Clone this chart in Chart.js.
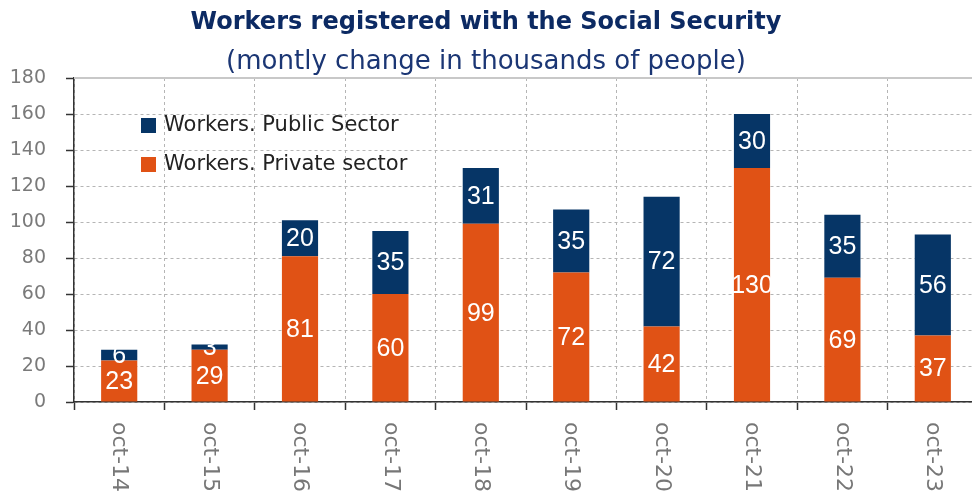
<!DOCTYPE html>
<html>
<head>
<meta charset="utf-8">
<script src="https://cdn.jsdelivr.net/npm/chart.js@4"></script>
<style>
  html, body { margin: 0; padding: 0; background: #fff; overflow: hidden; }
  #wrap { position: relative; width: 978px; height: 498px; }
</style>
</head>
<body>
<div id="wrap"><canvas id="chart"></canvas></div>
<script>
// monthly change in thousands of people, each October
const months = ['oct-14', 'oct-15', 'oct-16', 'oct-17', 'oct-18', 'oct-19', 'oct-20', 'oct-21', 'oct-22', 'oct-23'];
const privateSector = [23, 29, 81, 60, 99, 72, 42, 130, 69, 37];
const publicSector = [6, 3, 20, 35, 31, 35, 72, 30, 35, 56];
const yTicks = [0, 20, 40, 60, 80, 100, 120, 140, 160, 180];

const NAVY = '#063566';
const ORANGE = '#E05215';
const TITLE_COLOR = '#0C2A63';
const AXIS_FONT = '"DejaVu Sans", sans-serif';

// white numbers centred in each bar segment
const barLabels = {
    id: 'barLabels',
    afterDatasetsDraw(chart) {
        const ctx = chart.ctx;
        ctx.save();
        ctx.fillStyle = '#fff';
        ctx.font = '25px "Liberation Sans", Arial, sans-serif';
        ctx.textAlign = 'center';
        ctx.textBaseline = 'middle';
        chart.data.datasets.forEach((ds, i) => {
            chart.getDatasetMeta(i).data.forEach((bar, j) => {
                const y = (bar.y + bar.base) / 2;
                ctx.fillText(String(ds.data[j]), bar.x, y + 1);
            });
        });
        ctx.restore();
    }
};

// titles, legend inside the plot, rotated month labels, top border
const decorations = {
    id: 'decorations',
    afterDraw(chart) {
        const ctx = chart.ctx;
        const area = chart.chartArea;
        ctx.save();

        ctx.fillStyle = TITLE_COLOR;
        ctx.textAlign = 'center';
        ctx.textBaseline = 'middle';
        ctx.font = 'bold 24px ' + AXIS_FONT;
        ctx.fillText('Workers registered with the Social Security', 486, 23);
        ctx.fillStyle = '#1B3674';
        ctx.font = '26px ' + AXIS_FONT;
        ctx.fillText('(montly change in thousands of people)', 486, 62);

        // top border line at 180
        ctx.strokeStyle = '#c8c8c8';
        ctx.lineWidth = 2;
        ctx.beginPath();
        ctx.moveTo(area.left, area.top);
        ctx.lineTo(area.right, area.top);
        ctx.stroke();

        // legend
        const items = [
            { text: 'Workers. Public Sector', color: NAVY, y: 126 },
            { text: 'Workers. Private sector', color: ORANGE, y: 165 }
        ];
        ctx.textAlign = 'left';
        ctx.font = '21px ' + AXIS_FONT;
        items.forEach(item => {
            ctx.fillStyle = item.color;
            ctx.fillRect(141, item.y - 8, 15, 15);
            ctx.fillStyle = '#222';
            ctx.fillText(item.text, 164, item.y);
        });

        // month labels, reading top to bottom
        const xScale = chart.scales.x;
        ctx.fillStyle = '#777';
        ctx.font = '22px ' + AXIS_FONT;
        ctx.textBaseline = 'middle';
        months.forEach((m, i) => {
            const x = xScale.getPixelForValue(i);
            ctx.save();
            ctx.translate(x, area.bottom + 20);
            ctx.rotate(Math.PI / 2);
            ctx.fillText(m, 0, 0);
            ctx.restore();
        });

        ctx.restore();
    }
};

new Chart(document.getElementById('chart'), {
    type: 'bar',
    data: {
        labels: months,
        datasets: [
            {
                label: 'Workers. Private sector',
                data: privateSector,
                backgroundColor: ORANGE,
                barPercentage: 0.4,
                categoryPercentage: 1
            },
            {
                label: 'Workers. Public Sector',
                data: publicSector,
                backgroundColor: NAVY,
                barPercentage: 0.4,
                categoryPercentage: 1
            }
        ]
    },
    options: {
        responsive: true,
        maintainAspectRatio: false,
        animation: false,
        layout: { padding: { top: 78, right: 0, bottom: 0, left: 0 } },
        plugins: {
            legend: { display: false },
            title: { display: false },
            tooltip: { enabled: false }
        },
        scales: {
            x: {
                stacked: true,
                afterFit: scale => { scale.height = 96; },
                ticks: { display: false },
                grid: {
                    offset: true,
                    color: '#b5b5b5',
                    tickColor: '#333',
                    tickLength: 8,
                    tickWidth: 1.5
                },
                border: { color: '#333', width: 1.5, dash: [3, 3] }
            },
            y: {
                stacked: true,
                min: 0,
                max: 180,
                afterFit: scale => { scale.width = 74; },
                afterBuildTicks: scale => { scale.ticks = yTicks.map(v => ({ value: v })); },
                ticks: {
                    padding: 20,
                    color: '#7a7a7a',
                    font: { family: AXIS_FONT, size: 19 }
                },
                grid: {
                    color: '#b5b5b5',
                    tickColor: '#333',
                    tickLength: 8,
                    tickWidth: 1.5
                },
                border: { color: '#333', width: 1.5, dash: [3, 3] }
            }
        }
    },
    plugins: [barLabels, decorations]
});
</script>
</body>
</html>
